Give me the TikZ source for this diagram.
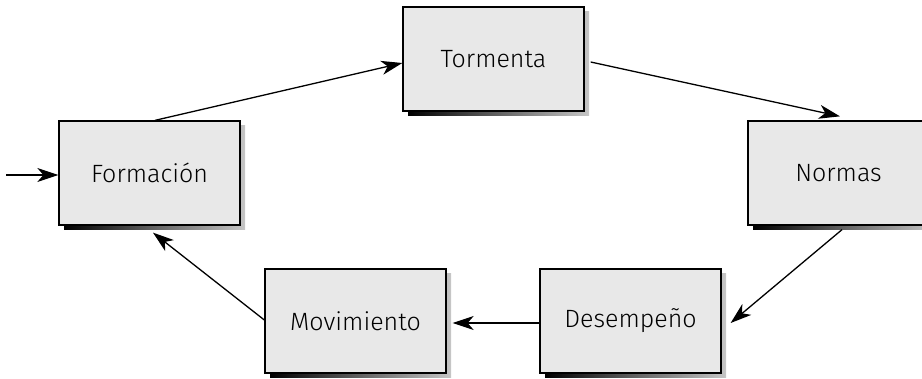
\documentclass[tikz,border=0pt]{standalone}
\usepackage{fontspec}
\setmainfont{Fira Sans}[UprightFont=* Light]
\usetikzlibrary{positioning,arrows.meta,shadows}
\definecolor{boxgray}{RGB}{232,232,232}

\begin{document}
\begin{tikzpicture}[
    x=1pt, y=-1pt,
    >={Stealth[length=21pt,width=14pt,inset=6pt]},
    font=\fontsize{25}{29}\selectfont,
    every path/.style={line width=1.3pt},
    stage/.style={
        draw,
        fill=boxgray,
        minimum width=181pt,
        minimum height=104pt,
        line width=1.3pt,
        general shadow={shadow xshift=5pt, shadow yshift=-5pt,
                        left color=black, right color=gray!45}
    }
]
\useasboundingbox (0,0) rectangle (922,379);

\node[stage] (form) at (149.5,173) {Formación};
\node[stage] (torm) at (493.5,59) {Tormenta};
\node[stage] (norm) at (838.5,173) {Normas};
\node[stage] (des) at (630.5,321) {Desempeño};
\node[stage] (mov) at (355.5,321) {Movimiento};

\coordinate (start) at (6,175);

\draw[->] (start) -- ([yshift=-2pt]form.west);
\draw[->] ([xshift=5.5pt]form.north) -- ([yshift=-4pt]torm.west);
\draw[->] ([xshift=6pt,yshift=-3pt]torm.east) -- ([xshift=1.5pt,yshift=4pt]norm.north);
\draw[->] ([xshift=3.5pt,yshift=-4pt]norm.south) -- ([xshift=9pt,yshift=-2pt]des.east);
\draw[->] ([yshift=-2pt]des.west) -- ([xshift=6pt,yshift=-2pt]mov.east);
\draw[->] ([yshift=1pt]mov.west) -- ([xshift=3.5pt,yshift=-7pt]form.south);

\end{tikzpicture}
\end{document}
